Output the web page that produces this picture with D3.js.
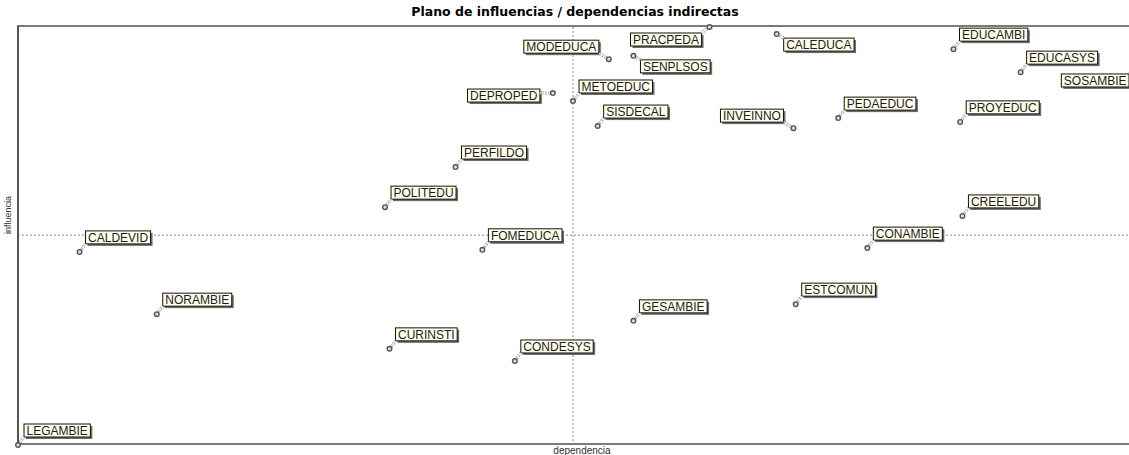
<!DOCTYPE html>
<html>
<head>
<meta charset="utf-8">
<script src="https://cdn.jsdelivr.net/npm/d3@7"></script>
<style>
  body { margin: 0; background: #fff; }
  text { font-family: "Liberation Sans", Arial, sans-serif; }
</style>
</head>
<body>
<svg id="chart"></svg>
<script>
// variables and their indirect dependence / influence (scaled 0-1000)
const variables = ["PRACPEDA","MODEDUCA","CALEDUCA","EDUCAMBI","EDUCASYS","SOSAMBIE","SENPLSOS",
  "METOEDUC","DEPROPED","SISDECAL","INVEINNO","PEDAEDUC","PROYEDUC","PERFILDO","POLITEDU",
  "CREELEDU","CALDEVID","FOMEDUCA","CONAMBIE","NORAMBIE","CURINSTI","CONDESYS","GESAMBIE",
  "ESTCOMUN","LEGAMBIE"];
const dependence = [618,528,678,836,896,1000,550,496,478,518,693,733,842,391,328,844,55,415,759,124,332,444,550,695,0];
const influence  = [1000,923,983,947,892,902,931,823,842,763,758,782,773,665,569,548,462,467,471,313,230,201,297,337,0];
// the two dashed cross lines
const crossDependence = 496;
const crossInfluence = 502;

const title = "Plano de influencias / dependencias indirectas";
const xLabel = "dependencia";
const yLabel = "influencia";

// where each label sits relative to its point (default ne)
const labelSide = {PRACPEDA:"sw", SOSAMBIE:"sw", MODEDUCA:"nw", INVEINNO:"nw", DEPROPED:"w",
  CALEDUCA:"se", SENPLSOS:"se"};

const width = 1129, height = 455;
const plot = {left: 18, top: 27, right: 1137, bottom: 445};

const svg = d3.select("#chart").attr("width", width).attr("height", height);

const x = d3.scaleLinear().domain(d3.extent(dependence)).range([plot.left, plot.right]);
const y = d3.scaleLinear().domain(d3.extent(influence)).range([plot.bottom, plot.top]);

svg.append("text")
  .attr("x", 575).attr("y", 16)
  .attr("text-anchor", "middle")
  .style("font-family", "'DejaVu Sans', sans-serif")
  .style("font-size", "12.5px").style("font-weight", "bold")
  .text(title);

// frame
svg.append("rect")
  .attr("x", plot.left).attr("y", plot.top - 1)
  .attr("width", plot.right - plot.left + 4).attr("height", plot.bottom - plot.top)
  .attr("fill", "none").attr("stroke", "#7a7a7a").attr("stroke-width", 2);
svg.append("line")
  .attr("x1", plot.left).attr("x2", plot.left)
  .attr("y1", plot.top - 1).attr("y2", plot.bottom - 1)
  .attr("stroke", "#555").attr("stroke-width", 2);

// mean lines
svg.append("line")
  .attr("x1", x(crossDependence)).attr("x2", x(crossDependence))
  .attr("y1", plot.top).attr("y2", plot.bottom - 1)
  .attr("stroke", "#8a8a8a").attr("stroke-dasharray", "2,2");
svg.append("line")
  .attr("x1", plot.left).attr("x2", width)
  .attr("y1", y(crossInfluence)).attr("y2", y(crossInfluence))
  .attr("stroke", "#8a8a8a").attr("stroke-dasharray", "2,2");

svg.append("text")
  .attr("transform", `translate(11, 215) rotate(-90)`)
  .attr("text-anchor", "middle")
  .style("font-size", "9px").attr("fill", "#333")
  .text(yLabel);
svg.append("text")
  .attr("x", 582).attr("y", 454)
  .attr("text-anchor", "middle")
  .style("font-size", "10px").attr("fill", "#333")
  .text(xLabel);

const data = variables.map((name, i) => ({name, d: dependence[i], inf: influence[i]}));

const g = svg.append("g").selectAll("g").data(data).join("g");

// text first so we can measure it
const labels = g.append("text")
  .style("font-size", "12px").attr("fill", "#1c1a2a")
  .text(d => d.name);

labels.each(function(d) {
  const w = this.getComputedTextLength() + 5, h = 13;
  const px = x(d.d), py = y(d.inf);
  const side = labelSide[d.name] || "ne";
  let bx, by, cx, cy;
  if (side === "ne") { bx = px + 6; by = py - 8 - h; cx = bx; cy = by + h; }
  else if (side === "se") { bx = px + 7; by = py + 4; cx = bx; cy = by; }
  else if (side === "sw") { bx = px - 8 - w; by = py + 6; cx = bx + w; cy = by; }
  else if (side === "nw") { bx = px - 10 - w; by = py - 6 - h; cx = bx + w; cy = by + h; }
  else { bx = px - 13 - w; by = py - 4; cx = bx + w; cy = by + 4; }
  d.box = {bx, by, w, h, cx, cy, px, py};
});

// leader
g.append("line")
  .attr("x1", d => d.box.px).attr("y1", d => d.box.py)
  .attr("x2", d => d.box.cx).attr("y2", d => d.box.cy)
  .attr("stroke", "#a8a8a8").attr("stroke-width", 3).attr("stroke-dasharray", "2,1");
g.append("line")
  .attr("x1", d => d.box.px).attr("y1", d => d.box.py)
  .attr("x2", d => d.box.cx).attr("y2", d => d.box.cy)
  .attr("stroke", "#fff").attr("stroke-width", 1);

g.append("circle")
  .attr("cx", d => d.box.px).attr("cy", d => d.box.py).attr("r", 2.3)
  .attr("fill", "#ddd").attr("stroke", "#555").attr("stroke-width", 1.4);

g.insert("rect", "text")
  .attr("x", d => d.box.bx + 2).attr("y", d => d.box.by + 2)
  .attr("width", d => d.box.w).attr("height", d => d.box.h)
  .attr("fill", "#6e6e6e");
g.insert("rect", "text")
  .attr("x", d => d.box.bx).attr("y", d => d.box.by)
  .attr("width", d => d.box.w).attr("height", d => d.box.h)
  .attr("fill", "#ffffe8").attr("stroke", "#111").attr("stroke-width", 1);

labels
  .attr("x", d => d.box.bx + 2.5)
  .attr("y", d => d.box.by + 11);
g.each(function() { this.appendChild(this.querySelector("text")); });
</script>
</body>
</html>
